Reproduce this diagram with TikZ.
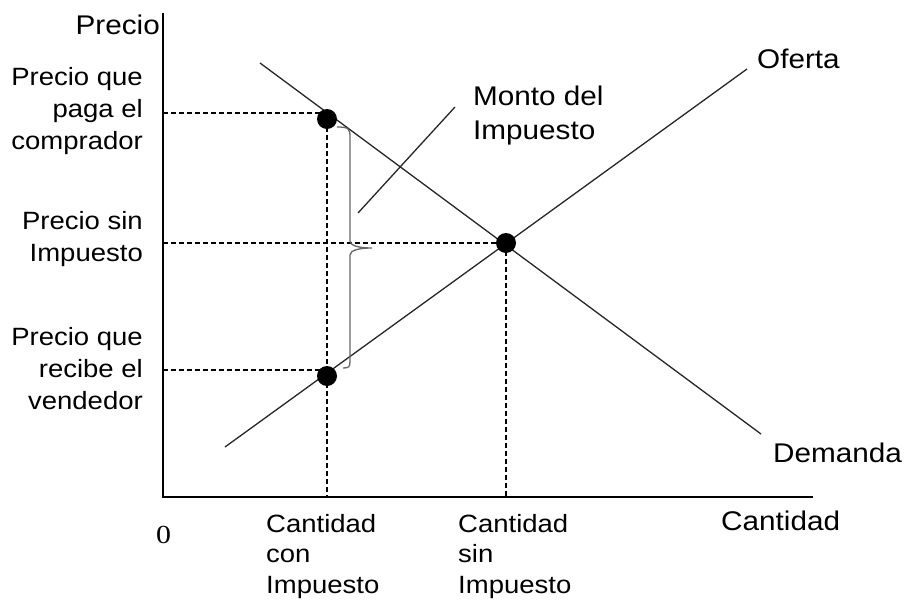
\documentclass[tikz,border=0pt]{standalone}
\usepackage{fontspec}
\setmainfont{Liberation Sans}[FakeStretch=1.1]
\newfontfamily\zerofont{Liberation Serif}[FakeStretch=1.15]
\begin{document}
\begin{tikzpicture}[x=1pt,y=-1pt,
  lblbig/.style={inner sep=0pt,font=\fontsize{27}{34}\selectfont},
  lblleft/.style={inner sep=0pt,font=\fontsize{25}{32}\selectfont},
  lblbottom/.style={inner sep=0pt,font=\fontsize{25}{30.5}\selectfont},
  axisline/.style={line width=1.5pt,black},
  curve/.style={line width=1.3pt,black!85},
  guide/.style={line width=1.1pt,black,dash pattern=on 4.5pt off 3.5pt},
  dotnode/.style={circle,fill=black,inner sep=0pt,minimum size=20pt},
  bracepath/.style={line width=1.3pt,black!60},
  leader/.style={line width=1.3pt,black!85}]
\useasboundingbox (0,0) rectangle (906,600);
% axes
\coordinate (O) at (163,497);
\coordinate (ytop) at (163,13);
\coordinate (xend) at (813,497);
\draw[axisline] (ytop) -- (O) -- (xend);
% curves
\coordinate (d1) at (260,63);
\coordinate (d2) at (761,434);
\coordinate (s1) at (225,447);
\coordinate (s2) at (747,69);
\draw[curve] (d1) -- (d2);
\draw[curve] (s1) -- (s2);
% guide coordinates
\coordinate (pc) at (163,113);
\coordinate (pe) at (163,243);
\coordinate (pv) at (163,370);
\coordinate (qt) at (327,497);
\coordinate (qe) at (506,497);
% points
\node[dotnode] (B) at (327,119) {};
\node[dotnode] (E) at (506,243) {};
\node[dotnode] (S) at (327,376) {};
% dashed guides
\draw[guide] (pc) -- (pc -| B);
\draw[guide] (pe) -- (E.center);
\draw[guide] (pv) -- (pv -| S);
\draw[guide] (B.center) -- (qt);
\draw[guide] (E.center) -- (qe);
% brace
\coordinate (bt) at (337,127);
\coordinate (btip) at (372,248);
\coordinate (bb) at (343,368);
\draw[bracepath] (bt) .. controls (349,127) and (350,129) .. (350,137)
  -- (350,241) .. controls (350,246) and (360,248) .. (btip)
  .. controls (360,248) and (350,250) .. (350,255)
  -- (350,361) .. controls (350,367) and (349,368) .. (bb);
% leader line
\coordinate (la) at (358,213);
\coordinate (lb) at (455,107);
\draw[leader] (la) -- (lb);
% labels
\node[lblbig,anchor=base east] (precio) at (160,34) {Precio};
\node[lblleft,anchor=north east,align=right] (pcomp) at (143,62.6) {\strut Precio que\\paga el\\comprador};
\node[lblleft,anchor=north east,align=right] (psin) at (143,206.6) {\strut Precio sin\\Impuesto};
\node[lblleft,anchor=north east,align=right] (pvend) at (143,322.6) {\strut Precio que\\recibe el\\vendedor};
\node[lblbig,anchor=north west,align=left] (monto) at (473,81.2) {\strut Monto del\\Impuesto};
\node[lblbig,anchor=base west] (oferta) at (757,68) {Oferta};
\node[lblbig,anchor=base west] (demanda) at (773,462) {Demanda};
\node[lblbig,anchor=base west] (cant) at (721,530) {Cantidad};
\node[lblbottom,anchor=north west,align=left] (ccon) at (266,510.65) {\strut Cantidad\\con\\Impuesto};
\node[lblbottom,anchor=north west,align=left] (csin) at (458,510.65) {\strut Cantidad\\sin\\Impuesto};
\node[inner sep=0pt,anchor=base west,font=\zerofont\fontsize{26}{30}\selectfont] (zero) at (156,543) {0};
\end{tikzpicture}
\end{document}
